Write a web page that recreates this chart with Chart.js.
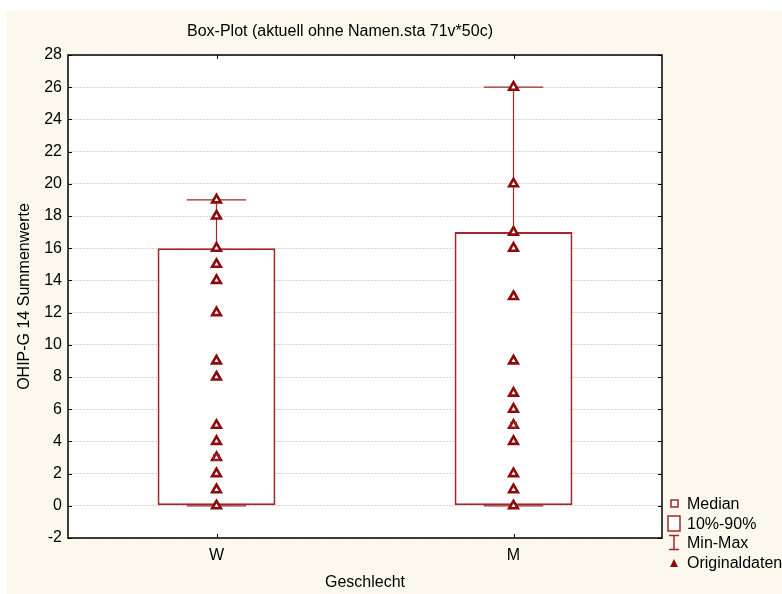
<!DOCTYPE html>
<html>
<head>
<meta charset="utf-8">
<script src="https://cdn.jsdelivr.net/npm/chart.js@4.4.1/dist/chart.umd.min.js"></script>
<style>
  html, body { margin: 0; padding: 0; background: #fff; overflow: hidden; }
  #wrap { position: relative; width: 782px; height: 594px; font-family: "Liberation Sans", Arial, sans-serif; }
  #legend { position: absolute; left: 664px; top: 494px; font-size: 16px; color: #000; white-space: nowrap; }
  #legend .row { height: 19.5px; line-height: 19.5px; display: flex; align-items: center; }
  #legend svg { width: 20px; height: 19px; margin-right: 3px; flex: none; }
</style>
</head>
<body>
<div id="wrap">
  <canvas id="c" width="782" height="594"></canvas>
  <div id="legend">
    <div class="row"><svg viewBox="0 0 20 19"><rect x="7" y="6" width="7" height="7" fill="#fff" stroke="#A0282D" stroke-width="1.5"/></svg>Median</div>
    <div class="row"><svg viewBox="0 0 20 19"><rect x="4" y="2" width="12" height="15" fill="#fff" stroke="#A0282D" stroke-width="1.5"/></svg>10%-90%</div>
    <div class="row"><svg viewBox="0 0 20 19"><path d="M5 2.5H15M10 2.5V16.5M5 16.5H15" fill="none" stroke="#A0282D" stroke-width="1.5"/></svg>Min-Max</div>
    <div class="row"><svg viewBox="0 0 20 19"><path d="M10 6L14 14H6Z" fill="#8B0A0A"/></svg>Originaldaten</div>
  </div>
</div>
<script>
// groups on the x axis
const categories = ['W', 'M'];
// 10%-90% range (box)
const boxLow = [0, 0];
const boxHigh = [16, 17];
// min / max whiskers
const minValues = [0, 0];
const maxValues = [19, 26];
const medians = [3, 5];
// raw observations per group
const rawW = [0, 1, 2, 3, 4, 5, 8, 9, 12, 14, 15, 16, 18, 19];
const rawM = [0, 1, 2, 4, 5, 6, 7, 9, 13, 16, 17, 20, 26];
const yTicks = { min: -2, max: 28, step: 2 };

const LINE = '#A0282D';
const DOT = '#8B0A0A';
const FONT = '"Liberation Sans", Arial, sans-serif';

// cream panel, white plot area, frame, inward ticks, title
const frame = {
  id: 'frame',
  beforeDraw(chart) {
    const { ctx, chartArea: a } = chart;
    ctx.save();
    ctx.fillStyle = '#FCF8EE';
    ctx.fillRect(7, 11, chart.width - 7, chart.height - 11);
    ctx.fillStyle = '#fff';
    ctx.fillRect(a.left, a.top, a.right - a.left, a.bottom - a.top);
    ctx.restore();
  },
  afterDraw(chart) {
    const { ctx, chartArea: a, scales } = chart;
    ctx.save();
    ctx.strokeStyle = '#000';
    ctx.lineWidth = 1;
    ctx.beginPath();
    scales.y.ticks.forEach(t => {
      const py = Math.round(scales.y.getPixelForValue(t.value)) + 0.5;
      ctx.moveTo(a.left, py); ctx.lineTo(a.left + 4, py);
      ctx.moveTo(a.right, py); ctx.lineTo(a.right - 4, py);
    });
    categories.forEach((c, i) => {
      const px = Math.round(scales.x.getPixelForValue(i)) + 0.5;
      ctx.moveTo(px, a.top); ctx.lineTo(px, a.top + 4);
      ctx.moveTo(px, a.bottom); ctx.lineTo(px, a.bottom - 4);
    });
    ctx.stroke();
    ctx.lineWidth = 1.5;
    ctx.strokeRect(a.left, a.top, a.right - a.left, a.bottom - a.top);
    ctx.fillStyle = '#000';
    ctx.font = '16px ' + FONT;
    ctx.textAlign = 'center';
    ctx.textBaseline = 'middle';
    ctx.fillText('Box-Plot (aktuell ohne Namen.sta 71v*50c)', 340, 32);
    ctx.restore();
  }
};

// whiskers and caps, drawn right after the boxes
const whiskers = {
  id: 'whiskers',
  afterDatasetDraw(chart, args) {
    if (args.index !== 0) return;
    const { ctx, scales: { x, y } } = chart;
    const capHalf = (x.getPixelForValue(1) - x.getPixelForValue(0)) * 0.1;
    ctx.save();
    ctx.strokeStyle = LINE;
    ctx.lineWidth = 1.2;
    ctx.beginPath();
    categories.forEach((c, i) => {
      const px = x.getPixelForValue(i);
      const top = y.getPixelForValue(maxValues[i]);
      const bot = y.getPixelForValue(minValues[i]);
      ctx.moveTo(px, y.getPixelForValue(boxHigh[i])); ctx.lineTo(px, top);
      ctx.moveTo(px, y.getPixelForValue(boxLow[i])); ctx.lineTo(px, bot);
      ctx.moveTo(px - capHalf, top); ctx.lineTo(px + capHalf, top);
      ctx.moveTo(px - capHalf, bot); ctx.lineTo(px + capHalf, bot);
    });
    ctx.stroke();
    ctx.restore();
  }
};

new Chart(document.getElementById('c'), {
  data: {
    labels: categories,
    datasets: [
      {
        type: 'bar',
        label: '10%-90%',
        data: categories.map((c, i) => [boxLow[i], boxHigh[i]]),
        backgroundColor: '#fff',
        borderColor: LINE,
        borderWidth: 2,
        borderSkipped: false,
        barPercentage: 0.397,
        categoryPercentage: 1,
        order: 3
      },
      {
        type: 'line',
        label: 'Originaldaten',
        data: rawW.map(v => ({ x: 'W', y: v })).concat(rawM.map(v => ({ x: 'M', y: v }))),
        showLine: false,
        pointStyle: 'triangle',
        pointRadius: 5,
        pointBackgroundColor: '#fff',
        pointBorderColor: DOT,
        pointBorderWidth: 2.6,
        order: 2
      },
      {
        type: 'line',
        label: 'Median',
        data: medians.map((v, i) => ({ x: categories[i], y: v })),
        showLine: false,
        pointStyle: 'rect',
        pointRadius: 4,
        pointBackgroundColor: 'rgba(255,255,255,0)',
        pointBorderColor: LINE,
        pointBorderWidth: 1.2,
        order: 1
      }
    ]
  },
  options: {
    responsive: false,
    animation: false,
    layout: { padding: { top: 55, right: 120, left: 0, bottom: 0 } },
    plugins: {
      legend: { display: false },
      tooltip: { enabled: false },
      title: { display: false }
    },
    scales: {
      x: {
        type: 'category',
        offset: true,
        grid: { display: false, drawTicks: false },
        border: { display: false },
        ticks: { color: '#000', font: { family: FONT, size: 16 }, padding: 8 },
        title: { display: true, text: 'Geschlecht', color: '#000', font: { family: FONT, size: 16 }, padding: { top: 2, bottom: 2 } },
        afterFit: s => { s.height = 56; }
      },
      y: {
        min: yTicks.min,
        max: yTicks.max,
        grid: { color: '#d6d6d6', lineWidth: 1, drawTicks: false },
        border: { display: false, dash: [2, 1] },
        ticks: { stepSize: yTicks.step, color: '#000', font: { family: FONT, size: 16 }, padding: 6 },
        title: { display: true, text: 'OHIP-G 14 Summenwerte', color: '#000', font: { family: FONT, size: 16 }, padding: { top: 15, bottom: 0 } },
        afterFit: s => { s.width = 68; }
      }
    }
  },
  plugins: [frame, whiskers]
});
</script>
</body>
</html>
